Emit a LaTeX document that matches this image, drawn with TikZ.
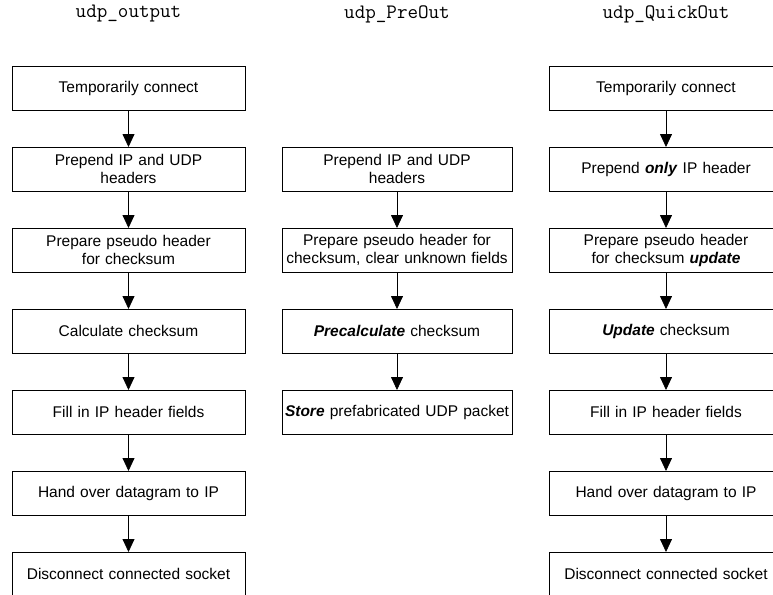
\documentclass[tikz,border=0pt]{standalone}
\usepackage{fontspec}
\setmainfont{Liberation Sans}
\usetikzlibrary{positioning}
\usetikzlibrary{arrows.meta}
\newcommand{\emphbi}[1]{\textbf{\textit{#1}}}

\begin{document}
\begin{tikzpicture}[x=1pt,y=1pt,
	node distance=37pt,
	box/.style={draw, line width=0.9pt, minimum width=233pt, minimum height=44pt,
		text width=225pt, align=center, inner sep=0pt, outer sep=0pt,
		font=\fontsize{15.5}{18}\selectfont},
	fname/.style={font=\ttfamily\fontsize{20.5}{22}\selectfont},
	flow/.style={-{Triangle[length=13pt,width=12pt]}, line width=0.8pt}]
\path[use as bounding box, clip] (0,0) rectangle (773,-594);
% titles
\node [fname] (to) at (128.5,-14) {udp\_output};
\node [fname] (tp) at (397,-14) {udp\_PreOut};
\node [fname] (tq) at (666,-14) {udp\_QuickOut};
% udp_output
\node [box] (o1) at (128.5,-88) {Temporarily connect};
\node [box, below=of o1] (o2) {Prepend IP and UDP\\headers};
\node [box, below=of o2] (o3) {Prepare pseudo header\\for checksum};
\node [box, below=of o3] (o4) {Calculate checksum};
\node [box, below=of o4] (o5) {Fill in IP header fields};
\node [box, below=of o5] (o6) {Hand over datagram to IP};
\node [box, below=of o6] (o7) {Disconnect connected socket};
% udp_PreOut
\node [box, minimum width=230pt] (p1) at (397,-169) {Prepend IP and UDP\\headers};
\node [box, minimum width=230pt, below=of p1] (p2) {Prepare pseudo header for\\checksum, clear unknown fields};
\node [box, minimum width=230pt, below=of p2] (p3) {\emphbi{Precalculate} checksum};
\node [box, minimum width=230pt, below=of p3] (p4) {\emphbi{Store} prefabricated UDP packet};
% udp_QuickOut
\node [box] (q1) at (666,-88) {Temporarily connect};
\node [box, below=of q1] (q2) {Prepend \emphbi{only} IP header};
\node [box, below=of q2] (q3) {Prepare pseudo header\\for checksum \emphbi{update}};
\node [box, below=of q3] (q4) {\emphbi{Update} checksum};
\node [box, below=of q4] (q5) {Fill in IP header fields};
\node [box, below=of q5] (q6) {Hand over datagram to IP};
\node [box, below=of q6] (q7) {Disconnect connected socket};
% arrows
\foreach \i/\j in {1/2,2/3,3/4,4/5,5/6,6/7}
	\draw [flow] (o\i) -- (o\j);
\foreach \i/\j in {1/2,2/3,3/4}
	\draw [flow] (p\i) -- (p\j);
\foreach \i/\j in {1/2,2/3,3/4,4/5,5/6,6/7}
	\draw [flow] (q\i) -- (q\j);
\end{tikzpicture}
\end{document}
